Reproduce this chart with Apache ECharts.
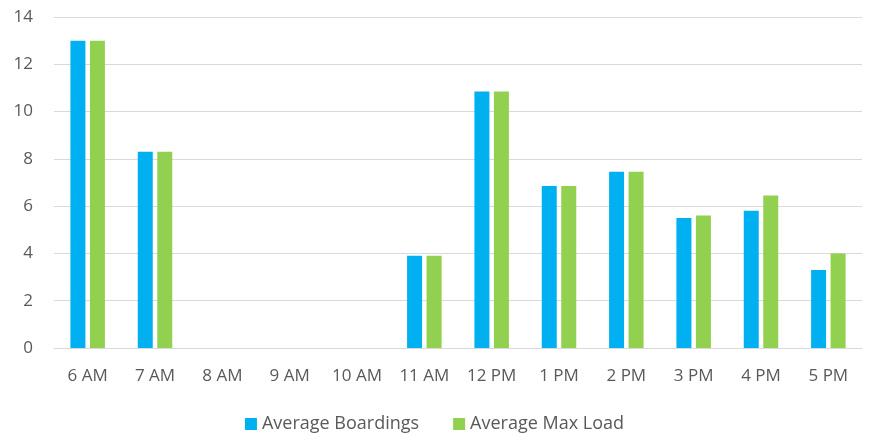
<!DOCTYPE html>
<html>
<head>
<meta charset="utf-8">
<script src="https://cdn.jsdelivr.net/npm/echarts@6/dist/echarts.min.js"></script>
<style>
  html, body { margin: 0; padding: 0; background: #fff; }
  #chart { width: 869px; height: 440px; }
</style>
</head>
<body>
<div id="chart"></div>
<script>
// hours of the day
const hours = ['6 AM', '7 AM', '8 AM', '9 AM', '10 AM', '11 AM', '12 PM', '1 PM', '2 PM', '3 PM', '4 PM', '5 PM']
// values
const avgBoardings = [13, 8.3, 0, 0, 0, 3.9, 10.85, 6.85, 7.45, 5.5, 5.8, 3.3]
const avgMaxLoad = [13, 8.3, 0, 0, 0, 3.9, 10.85, 6.85, 7.45, 5.6, 6.45, 4]

const textColor = '#595959'
const font = 'Open Sans'

const chart = echarts.init(document.getElementById('chart'))
chart.setOption({
    animation: false,
    grid: { left: 54, right: 7, top: 17, bottom: 92, containLabel: false },
    legend: {
        bottom: 2,
        left: 'center',
        itemWidth: 12,
        itemHeight: 12,
        itemGap: 34,
        icon: 'rect',
        textStyle: { color: textColor, fontSize: 18, fontFamily: font },
        data: ['Average Boardings', 'Average Max Load']
    },
    xAxis: {
        type: 'category',
        data: hours,
        axisTick: { show: false },
        axisLine: { lineStyle: { color: '#d9d9d9', width: 1 } },
        axisLabel: { color: textColor, fontSize: 17, fontFamily: font, margin: 20 }
    },
    yAxis: {
        type: 'value',
        min: 0,
        max: 14,
        interval: 2,
        axisLabel: { color: textColor, fontSize: 17, fontFamily: font, margin: 21 },
        splitLine: { lineStyle: { color: '#d9d9d9', width: 1 } }
    },
    series: [
        {
            name: 'Average Boardings',
            type: 'bar',
            data: avgBoardings,
            barWidth: 15,
            barGap: '30%',
            itemStyle: { color: '#00B0F0' }
        },
        {
            name: 'Average Max Load',
            type: 'bar',
            data: avgMaxLoad,
            barWidth: 15,
            itemStyle: { color: '#92D050' }
        }
    ]
})
</script>
</body>
</html>
